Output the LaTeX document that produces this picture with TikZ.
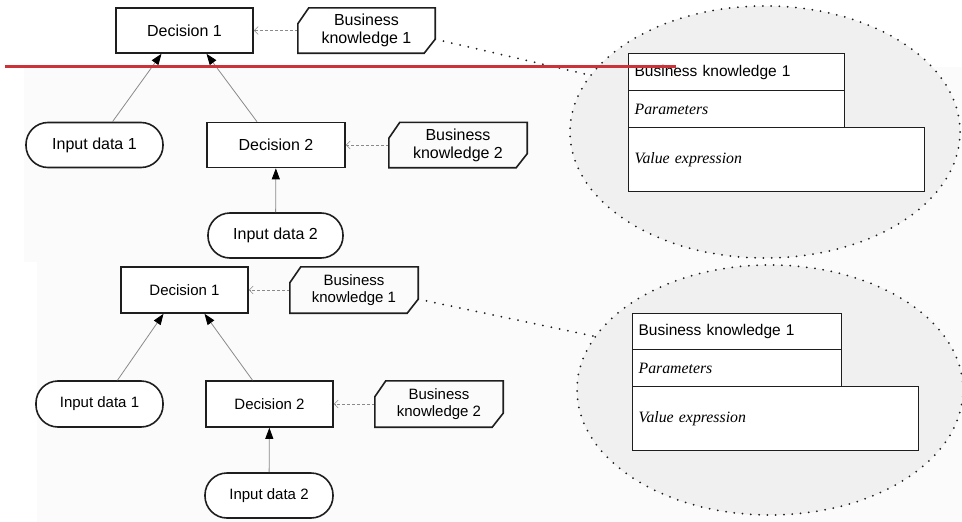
\documentclass[tikz,border=0pt]{standalone}
\usepackage{fontspec}
\setmainfont{Liberation Sans}
\newfontfamily\timesfont{Liberation Serif}
\usetikzlibrary{arrows.meta,shapes.geometric}

\definecolor{ink}{HTML}{1E1E1E}
\definecolor{edgegray}{HTML}{8A8A8A}
\definecolor{bubble}{HTML}{F0F0F0}
\definecolor{paper}{HTML}{FBFBFB}
\definecolor{redline}{HTML}{CC3338}

\tikzset{
  decision/.style={draw=ink, line width=1.6pt, fill=white, minimum width=#1,
    minimum height=45, inner sep=0pt},
  decision/.default=137,
  inputdata/.style={draw=ink, line width=1.6pt, fill=white, rounded corners=22pt,
    minimum width=#1, minimum height=45, inner sep=0pt},
  inputdata/.default=137,
  bkm/.style={minimum width=#1, minimum height=45, inner sep=0pt, align=center},
  bkm/.default=137,
  bkmline/.style={draw=ink, line width=1.6pt, line join=miter},
  bigtext/.style={font=\fontsize{16}{18}\selectfont},
  smalltext/.style={font=\fontsize{15}{17}\selectfont},
  inforeq/.style={draw=edgegray, line width=0.8pt, -{Triangle[length=11pt,width=8pt,color=black]}},
  knowreq/.style={draw=edgegray, line width=0.6pt, dash pattern=on 3pt off 2pt,
    -{Straight Barb[length=4pt,width=8pt]}},
  zoomlink/.style={draw=ink, line width=2pt, line cap=round, dash pattern=on 0pt off 8.5pt},
  zoombubble/.style={ellipse, draw=ink, fill=bubble, line width=2pt, line cap=round,
    dash pattern=on 0pt off 8.3pt, inner sep=0pt},
  cell/.style={draw=ink, line width=1.2pt, fill=white, inner xsep=6pt, inner ysep=0pt,
    align=left, anchor=north west},
  headtext/.style={font=\fontsize{15.5}{18}\selectfont},
  slottext/.style={font=\timesfont\itshape\fontsize{15.8}{18}\selectfont}
}

\begin{document}
\begin{tikzpicture}[x=1pt,y=-1pt]
\useasboundingbox (0,0) rectangle (962,522);

% faint backdrop of the two screenshots
\fill[paper] (24,67) rectangle (962,262);
\fill[paper] (37,262) rectangle (962,522);

% upper diagram
\node[zoombubble, minimum width=390, minimum height=252] (eA) at (765,132) {};
\node[cell, headtext, text width=204pt, minimum height=37] (hA) at (628,53) {Business knowledge 1};
\node[cell, slottext, text width=204pt, minimum height=37] (pA) at (628,90) {Parameters};
\node[cell, slottext, text width=284pt, minimum height=64] (vA) at (628,127) {Value expression};

\node[decision, bigtext] (dA) at (184.5,30.5) {Decision 1};
\node[bkm, bigtext] (kA) at (366.5,30.5) {Business\\knowledge 1};
\node[inputdata, bigtext] (iA) at (94.5,145) {Input data 1};
\node[decision=138, bigtext] (dB) at (276,145) {Decision 2};
\node[bkm=138, bigtext] (kB) at (458,145) {Business\\knowledge 2};
\node[inputdata=135, bigtext] (iB) at (275.5,235.5) {Input data 2};

\draw[inforeq] ([xshift=18pt]iA.north) -- ([xshift=-23pt]dA.south);
\draw[inforeq] ([xshift=-19pt]dB.north) -- ([xshift=22pt]dA.south);
\draw[inforeq] (iB) -- (dB);
\draw[knowreq] (kA) -- (dA);
\draw[knowreq] (kB) -- (dB);
\draw[zoomlink] ([yshift=14pt]kA.south east) -- (eA.162);

% lower diagram
\node[zoombubble, minimum width=386, minimum height=250] (eB) at (770,390) {};
\node[cell, headtext, text width=197pt, minimum height=36] (hB) at (632,313) {Business knowledge 1};
\node[cell, slottext, text width=197pt, minimum height=37] (pB) at (632,349) {Parameters};
\node[cell, slottext, text width=274pt, minimum height=64] (vB) at (632,386) {Value expression};

\node[decision=127, smalltext, minimum height=46] (dC) at (184.5,290) {Decision 1};
\node[bkm=128, smalltext, minimum height=46] (kC) at (354,290) {Business\\knowledge 1};
\node[inputdata=127, smalltext, minimum height=46] (iC) at (99.5,404) {Input data 1};
\node[decision=127, smalltext, minimum height=46] (dD) at (269.5,404) {Decision 2};
\node[bkm=128, smalltext, minimum height=46] (kD) at (439,404) {Business\\knowledge 2};
\node[inputdata=128, smalltext] (iD) at (269,495.5) {Input data 2};

\draw[inforeq] ([xshift=18pt]iC.north) -- ([xshift=-21pt]dC.south);
\draw[inforeq] ([xshift=-17pt]dD.north) -- ([xshift=20pt]dC.south);
\draw[inforeq] (iD) -- (dD);
\draw[knowreq] (kC) -- (dC);
\draw[knowreq] (kD) -- (dD);
\draw[zoomlink] ([yshift=14pt]kC.south east) -- (eB.163);

% clipped corners of the business knowledge boxes
\foreach \k in {kA,kB,kC,kD}
  \draw[bkmline] ([xshift=11pt]\k.north west) -- (\k.north east)
    -- ([yshift=14pt]\k.south east) -- ([xshift=-11pt]\k.south east)
    -- (\k.south west) -- ([yshift=-16pt]\k.north west) -- cycle;

% red mark across the top
\coordinate (rL) at (5,66);
\coordinate (rR) at (676,66);
\draw[redline, line width=3pt] (rL) -- (rR);
\end{tikzpicture}
\end{document}
